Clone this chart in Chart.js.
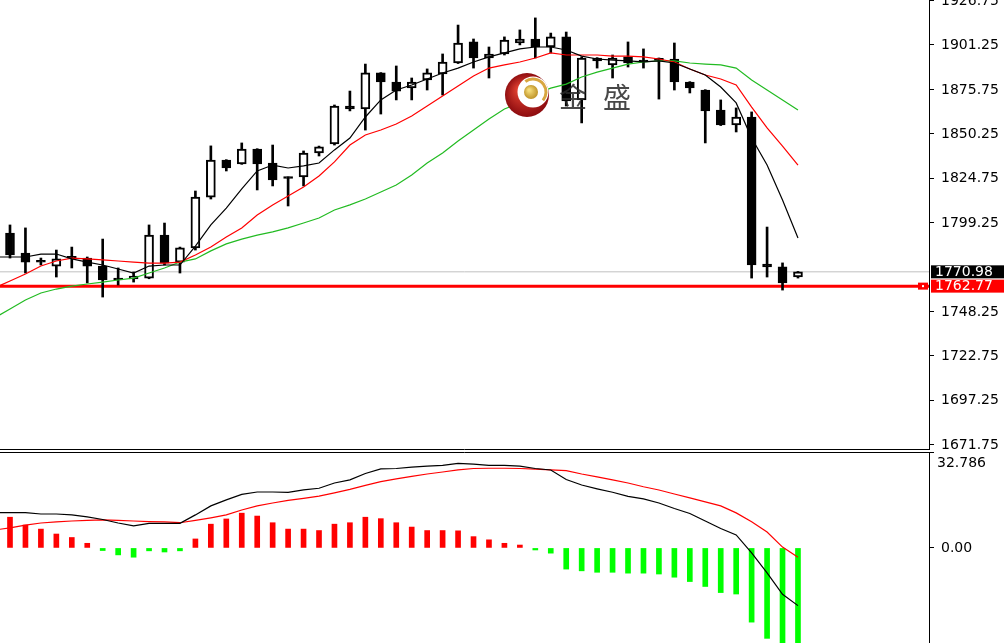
<!DOCTYPE html>
<html>
<head>
<meta charset="utf-8">
<script src="https://cdn.jsdelivr.net/npm/chart.js@4.4.1/dist/chart.umd.min.js"></script>
<style>
  html, body { margin: 0; padding: 0; background: #fff; overflow: hidden; }
  #wrap { position: relative; width: 1004px; height: 643px; }
  #priceChart { position: absolute; left: 0; top: 0; }
  #macdChart { position: absolute; left: 0; top: 452px; }
</style>
</head>
<body>
<div id="wrap">
  <canvas id="priceChart" width="1004" height="450"></canvas>
  <canvas id="macdChart" width="1004" height="191"></canvas>
</div>
<script>
// candles, index 0..51
const opens = [1793.3,1781.8,1776.8,1774.3,1779.0,1778.9,1774.3,1767.4,1766.9,1767.4,1792.1,1776.6,1784.7,1813.9,1835.2,1832.9,1841.5,1833.5,1824.9,1825.5,1839.2,1844.4,1866.2,1864.5,1885.2,1880.0,1876.6,1881.2,1884.6,1890.9,1903.0,1893.8,1896.1,1902.4,1904.7,1900.1,1905.9,1869.7,1893.8,1889.8,1894.4,1891.8,1892.6,1893.2,1880.0,1875.4,1863.9,1855.3,1859.9,1775.5,1773.8,1768.0];
const highs = [1797.9,1796.2,1778.9,1783.5,1785.2,1779.5,1789.8,1773.2,1770.9,1797.9,1799.0,1785.2,1817.4,1843.3,1835.4,1845.0,1841.7,1843.8,1825.5,1840.4,1843.2,1866.8,1874.8,1890.3,1885.4,1889.2,1882.3,1887.5,1896.1,1912.7,1904.7,1900.1,1905.9,1909.9,1916.8,1908.1,1908.7,1894.4,1894.0,1895.5,1903.0,1899.0,1893.8,1902.4,1880.2,1875.6,1869.7,1865.1,1862.8,1796.7,1776.1,1771.2];
const lows = [1778.9,1770.3,1774.9,1768.0,1773.2,1764.6,1756.5,1763.4,1765.1,1767.0,1774.9,1770.3,1783.5,1812.8,1828.9,1832.7,1818.0,1820.3,1808.8,1820.3,1837.5,1843.8,1863.4,1852.4,1861.6,1869.7,1869.7,1875.4,1872.5,1890.6,1888.0,1882.3,1895.5,1901.3,1893.8,1896.7,1866.2,1856.5,1888.0,1882.3,1888.6,1888.0,1870.2,1875.4,1873.7,1845.0,1855.0,1851.3,1767.4,1768.0,1760.5,1767.4];
const closes = [1780.7,1776.6,1776.5,1778.4,1778.8,1774.3,1766.3,1766.3,1768.6,1792.1,1776.0,1784.7,1813.9,1835.2,1830.6,1841.5,1832.9,1823.7,1824.6,1839.2,1842.7,1866.2,1864.5,1885.2,1880.0,1874.8,1880.0,1885.2,1891.5,1902.4,1893.8,1896.1,1904.1,1904.7,1900.1,1905.9,1869.1,1893.8,1892.1,1893.8,1890.9,1891.5,1892.4,1880.0,1876.6,1863.4,1855.3,1859.9,1774.9,1773.8,1764.6,1770.98];

// moving averages, index -1..51 (first point is just off the left edge)
const maFast = [1779.5,1779.5,1779.5,1781.2,1781.2,1778.4,1776.6,1774.9,1772.6,1770.3,1774.3,1774.9,1774.9,1785.8,1797.9,1807.6,1818.6,1828.9,1832.3,1830.6,1831.8,1833.5,1841.0,1847.8,1859.9,1869.7,1875.4,1878.3,1881.7,1885.2,1888.0,1891.5,1894.4,1896.7,1899.0,1900.1,1900.1,1898.4,1894.9,1893.2,1892.6,1892.1,1891.5,1892.1,1890.9,1887.5,1884.0,1877.1,1868.0,1847.8,1832.3,1812.2,1790.4];
const maMid = [1761.7,1765.7,1769.7,1774.3,1777.2,1778.9,1778.4,1777.8,1777.2,1776.6,1776.0,1776.0,1776.6,1780.6,1785.2,1791.0,1796.2,1803.6,1809.4,1814.5,1819.7,1826.0,1834.1,1843.8,1849.6,1852.4,1855.9,1860.5,1866.2,1872.0,1877.7,1883.5,1888.0,1889.8,1891.5,1893.8,1896.7,1895.5,1895.5,1895.5,1894.9,1894.9,1894.4,1893.2,1891.5,1887.5,1884.0,1881.7,1878.3,1865.6,1853.6,1843.2,1832.3];
const maSlow = [1744.5,1749.6,1754.8,1758.8,1761.1,1762.8,1764.0,1765.1,1766.3,1767.4,1770.3,1773.2,1776.6,1778.4,1783.0,1787.0,1789.8,1792.1,1793.9,1796.2,1799.0,1801.9,1806.5,1809.4,1812.8,1816.8,1820.8,1826.6,1833.5,1839.2,1846.1,1852.4,1858.7,1864.5,1867.9,1873.1,1876.5,1878.8,1882.9,1885.7,1888.0,1890.3,1891.5,1892.1,1892.1,1890.9,1890.3,1889.8,1888.0,1881.1,1875.4,1869.7,1863.9];

// MACD panel: lines index -1..51, histogram index 0..51
const macdLine = [12.2,12.2,12.2,11.7,11.7,11.4,10.7,9.8,8.6,7.6,8.5,8.5,8.5,11.4,14.5,16.6,18.5,19.3,19.3,19.2,20.0,20.6,22.4,23.5,25.7,27.3,27.4,27.9,28.2,28.5,29.2,28.9,28.5,28.5,28.2,27.4,26.9,23.6,21.7,20.4,19.2,17.8,16.9,15.5,13.6,11.9,9.3,6.7,4.5,-1.7,-8.6,-16.0,-19.9];
const signalLine = [6.2,6.9,7.9,8.6,9.0,9.3,9.5,9.7,9.5,9.3,9.1,9.0,8.7,9.5,10.4,11.4,13.1,14.5,15.5,16.4,17.1,17.9,19.0,20.2,21.6,22.9,23.8,24.7,25.5,26.2,26.9,27.4,27.5,27.5,27.4,27.2,26.9,26.7,25.5,24.5,23.5,22.4,21.1,20.0,18.6,17.3,15.9,14.5,12.1,9.0,5.5,0.3,-3.2];
const histogram = [10.6,7.9,6.5,4.8,3.6,1.6,-0.9,-2.4,-3.2,-1.0,-1.4,-1.0,3.1,8.2,10.0,12.0,11.0,8.7,6.5,6.5,6.0,8.2,8.7,10.6,10.1,8.7,7.2,6.0,6.0,5.9,3.9,2.8,1.6,1.0,-0.7,-1.8,-7.3,-7.9,-8.4,-8.4,-8.7,-8.7,-9.0,-10.1,-11.6,-13.3,-15.4,-15.9,-25.6,-31.2,-35.0,-36.0];

const priceTicks = [1926.75, 1901.25, 1875.75, 1850.25, 1824.75, 1799.25, 1748.25, 1722.75, 1697.25, 1671.75];
const macdTicks = [32.786, 0];
const bidPrice = 1770.98;
const linePrice = 1762.77;

const AXIS_FONT = "14px 'DejaVu Sans'";
const xRange = { min: -0.647, max: 59.48 };

const idx = (arr, start) => arr.map((v, i) => ({ x: i + start, y: v }));
const body = opens.map((o, i) => ({ x: i, y: [o, closes[i]] }));
const wick = lows.map((l, i) => ({ x: i, y: [l, highs[i]] }));
const bodyColors = opens.map((o, i) => (closes[i] > o ? "#ffffff" : "#000000"));

// tick labels are drawn here so the axis adds no padding to the plot
function drawTickLabels(chart, ticks, fmt, dy) {
  const c = chart.ctx;
  const s = chart.scales.y;
  c.save();
  c.fillStyle = "#000";
  c.font = AXIS_FONT;
  c.textBaseline = "middle";
  ticks.forEach((v) => {
    const t = fmt(v);
    if (t) c.fillText(t, s.left + 12, s.getPixelForValue(v) + dy);
  });
  c.restore();
}

const pricePlugin = {
  id: "priceExtras",
  afterDatasetsDraw(chart) {
    const c = chart.ctx;
    const area = chart.chartArea;
    c.save();
    // logo watermark
    const cx = 527, cy = 95;
    const g = c.createRadialGradient(cx - 8, cy - 6, 2, cx, cy, 23);
    g.addColorStop(0, "#e04030");
    g.addColorStop(1, "#8a0a0e");
    c.fillStyle = g;
    c.beginPath(); c.arc(cx, cy, 22, 0, Math.PI * 2); c.fill();
    c.fillStyle = "#fff";
    c.beginPath(); c.arc(cx + 6, cy - 3, 15.5, 0, Math.PI * 2); c.fill();
    c.strokeStyle = "#d8a640"; c.lineWidth = 3;
    c.beginPath(); c.arc(cx + 6, cy - 3, 13, -2.2, 0.7); c.stroke();
    const gb = c.createRadialGradient(cx + 2, cy - 5, 1, cx + 4, cy - 3, 8);
    gb.addColorStop(0, "#f5dc7a");
    gb.addColorStop(1, "#b88a1e");
    c.fillStyle = gb;
    c.beginPath(); c.arc(cx + 4, cy - 3, 7, 0, Math.PI * 2); c.fill();
    c.fillStyle = "rgba(40,40,40,0.85)";
    c.font = "28px 'Noto Sans CJK SC'";
    c.textBaseline = "middle";
    c.fillText("金", 559, 97);
    c.fillText("盛", 603, 97);
    // marker on the red line
    const yl = chart.scales.y.getPixelForValue(linePrice);
    c.fillStyle = "#ff0000";
    c.fillRect(area.right - 11, yl - 3.5, 10, 7);
    c.fillStyle = "#fff";
    c.fillRect(area.right - 7, yl - 1, 2, 2);
    c.restore();
  },
  afterDraw(chart) {
    const c = chart.ctx;
    const area = chart.chartArea;
    const y = chart.scales.y;
    drawTickLabels(chart, priceTicks, (v) => v.toFixed(2), 0.5);
    c.save();
    c.strokeStyle = "#000"; c.lineWidth = 1;
    c.beginPath(); c.moveTo(0, area.bottom - 0.5); c.lineTo(area.right, area.bottom - 0.5); c.stroke();
    c.font = AXIS_FONT;
    c.textBaseline = "middle";
    [[bidPrice, "#000000"], [linePrice, "#ff0000"]].forEach(([v, col]) => {
      const py = y.getPixelForValue(v);
      c.fillStyle = col;
      c.fillRect(area.right + 2, py - 6.5, 80, 13);
      c.fillStyle = "#fff";
      c.fillText(v.toFixed(2), area.right + 6, py + 0.5);
    });
    c.restore();
  }
};

const macdPlugin = {
  id: "macdExtras",
  afterDraw(chart) {
    const c = chart.ctx;
    const area = chart.chartArea;
    drawTickLabels(chart, [0], (v) => v.toFixed(2), 0.5);
    c.save();
    c.strokeStyle = "#000"; c.lineWidth = 1;
    c.beginPath(); c.moveTo(0, area.top + 0.5); c.lineTo(area.right, area.top + 0.5); c.stroke();
    c.fillStyle = "#000";
    c.font = AXIS_FONT;
    c.textBaseline = "top";
    c.fillText(macdTicks[0].toFixed(3), area.right + 8, chart.scales.y.getPixelForValue(macdTicks[0]) + 3);
    c.restore();
  }
};

const rightAxis = (min, max, ticks) => ({
  position: "right",
  min, max,
  afterFit: (s) => { s.width = 75; },
  afterBuildTicks: (s) => { s.ticks = ticks.map((v) => ({ value: v })); },
  grid: { drawOnChartArea: false, drawTicks: true, tickLength: 5, color: "#000" },
  border: { display: true, color: "#000", width: 1 },
  ticks: { display: false }
});

const xAxis = { type: "linear", display: false, offset: false, min: xRange.min, max: xRange.max };

const baseOptions = (yAxis) => ({
  responsive: false,
  animation: false,
  devicePixelRatio: 1,
  layout: { padding: 0, autoPadding: false },
  plugins: { legend: { display: false }, tooltip: { enabled: false } },
  scales: { x: xAxis, y: yAxis }
});

new Chart(document.getElementById("priceChart"), {
  type: "line",
  data: {
    datasets: [
      { type: "line", data: idx(maFast, -1), borderColor: "#000", borderWidth: 1.2, pointRadius: 0, order: 0 },
      { type: "line", data: idx(maMid, -1), borderColor: "#ff0000", borderWidth: 1.2, pointRadius: 0, order: 0 },
      { type: "line", data: idx(maSlow, -1), borderColor: "#22bb22", borderWidth: 1.2, pointRadius: 0, order: 0 },
      { type: "bar", data: body, backgroundColor: bodyColors, borderColor: "#000", borderWidth: 2,
        borderSkipped: false, barThickness: 9, minBarLength: 2, grouped: false, order: 1 },
      { type: "bar", data: wick, backgroundColor: "#000", borderWidth: 0, barThickness: 2, grouped: false, order: 2 },
      { type: "line", data: [{ x: -1, y: bidPrice }, { x: 60, y: bidPrice }], borderColor: "#c0c0c0", borderWidth: 1, pointRadius: 0, order: 3 },
      { type: "line", data: [{ x: -1, y: linePrice }, { x: 60, y: linePrice }], borderColor: "#ff0000", borderWidth: 3, pointRadius: 0, order: 3 }
    ]
  },
  options: baseOptions(rightAxis(1668.66, 1927.09, priceTicks)),
  plugins: [pricePlugin]
});

new Chart(document.getElementById("macdChart"), {
  type: "line",
  data: {
    datasets: [
      { type: "line", data: idx(macdLine, -1), borderColor: "#000", borderWidth: 1.2, pointRadius: 0, order: 0 },
      { type: "line", data: idx(signalLine, -1), borderColor: "#ff0000", borderWidth: 1.2, pointRadius: 0, order: 0 },
      { type: "bar", data: idx(histogram, 0), backgroundColor: histogram.map((v) => (v >= 0 ? "#ff0000" : "#00ff00")),
        borderWidth: 0, barThickness: 5, grouped: false, order: 1 }
    ]
  },
  options: baseOptions(rightAxis(-32.8, 33.1, macdTicks)),
  plugins: [macdPlugin]
});
</script>
</body>
</html>
